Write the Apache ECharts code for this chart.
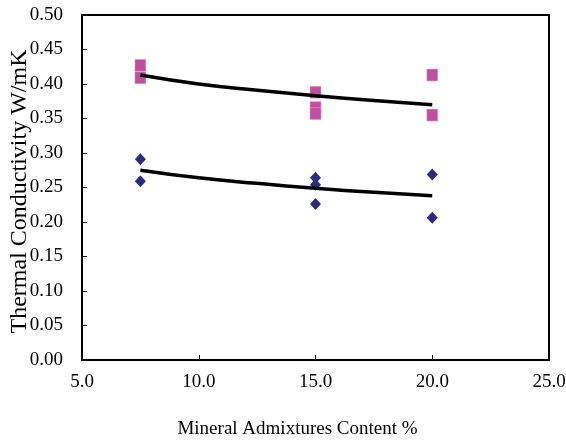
<!DOCTYPE html>
<html><head><meta charset="utf-8">
<script src="https://cdn.jsdelivr.net/npm/echarts@6/dist/echarts.min.js"></script>
<style>html,body{margin:0;padding:0;background:#fff}#c{width:566px;height:444px}</style>
</head><body><div id="c"></div>
<script>
const squareData = [[7.5,0.427],[7.5,0.409],[15,0.388],[15,0.366],[15,0.357],[20,0.413],[20,0.355]];
const diamondData = [[7.5,0.291],[7.5,0.259],[15,0.264],[15,0.254],[15,0.226],[20,0.269],[20,0.206]];
const trendX = [7.5,10,12.5,15,17.5,20];
const trendUpper = [0.413,0.400,0.391,0.383,0.376,0.370];
const trendLower = [0.275,0.264,0.256,0.249,0.243,0.238];
const font = '"Liberation Serif","Times New Roman",serif';
const chart = echarts.init(document.getElementById('c'));
chart.setOption({
  animation:false,
  grid:{left:82,right:17,top:15,bottom:84,containLabel:false,outerBoundsMode:'none',show:true,borderColor:'#000',borderWidth:2,backgroundColor:'transparent'},
  xAxis:{type:'value',min:5,max:25,interval:5,
    name:'Mineral Admixtures Content %',nameLocation:'middle',nameGap:60,nameMoveOverlap:false,
    nameTextStyle:{fontFamily:font,fontSize:19,color:'#000',padding:[0,36,0,0]},
    axisLine:{lineStyle:{color:'#000',width:2}},
    axisTick:{inside:true,length:5,lineStyle:{color:'#000'}},
    axisLabel:{fontFamily:font,fontSize:19,color:'#000',margin:13,formatter:v=>v.toFixed(1)},
    splitLine:{show:false}},
  yAxis:{type:'value',min:0,max:0.5,interval:0.05,
    name:'Thermal Conductivity W/mK',nameLocation:'middle',nameGap:50,nameMoveOverlap:false,
    nameTextStyle:{fontFamily:font,fontSize:24,color:'#000',padding:[0,8,0,0]},
    axisLine:{show:true,lineStyle:{color:'#000',width:2}},
    axisTick:{show:true,inside:true,length:5,lineStyle:{color:'#000'}},
    axisLabel:{fontFamily:font,fontSize:19,color:'#000',margin:19,formatter:v=>v.toFixed(2)},
    splitLine:{show:false}},
  series:[
    {type:'line',data:trendX.map((x,i)=>[x,trendUpper[i]]),smooth:true,symbol:'none',lineStyle:{color:'#000',width:3.5},z:3},
    {type:'line',data:trendX.map((x,i)=>[x,trendLower[i]]),smooth:true,symbol:'none',lineStyle:{color:'#000',width:3.5},z:3},
    {type:'scatter',data:squareData,symbol:'rect',symbolSize:[11,12],itemStyle:{color:'#BF4F9F',opacity:1,borderColor:'#E8B0D8',borderWidth:0.5},z:2},
    {type:'scatter',data:diamondData,symbol:'diamond',symbolSize:[11,12],itemStyle:{color:'#2B2B7F',opacity:1},z:2}
  ]
});
</script></body></html>
